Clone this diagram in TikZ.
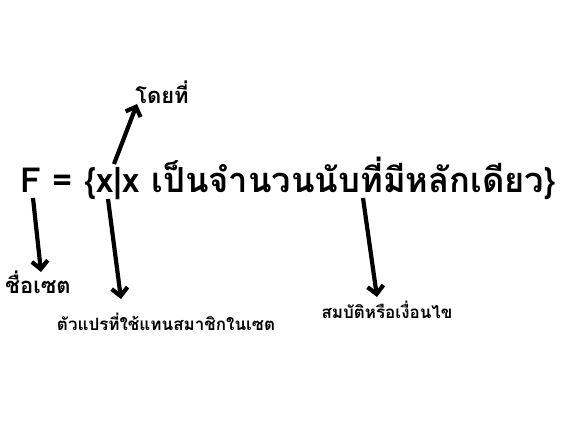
\documentclass[tikz,border=0pt]{standalone}
\usepackage{fontspec}
\newfontfamily\thaifont[Script=Thai]{Loma}
\usetikzlibrary{arrows.meta,positioning}

\begin{document}
\begin{tikzpicture}[x=1pt,y=-1pt,
  lbl/.style={font=\thaifont\bfseries\fontsize{17}{19}\selectfont, inner sep=0pt},
  biglbl/.style={font=\thaifont\bfseries\fontsize{22}{24}\selectfont, inner sep=0pt},
  pointer/.style={line width=4.2pt, -{Straight Barb[length=8pt,width=16pt,line width=4.2pt]}}]
  \useasboundingbox (0,0) rectangle (570,430);
  \node[inner sep=0pt, font=\thaifont\bfseries\fontsize{34.5}{38}\selectfont] (setdef) at (288,178) {F = \{x|x เป็นจำนวนนับที่มีหลักเดียว\}};
  \node[biglbl] (where) at (162,92) {โดยที่};
  \node[biglbl] (setname) at (38,282) {ชื่อเซต};
  \node[lbl] (var) at (166,322) {ตัวแปรที่ใช้แทนสมาชิกในเซต};
  \node[lbl] (prop) at (387,310) {สมบัติหรือเงื่อนไข};
  \coordinate (tF) at (33,198);
  \coordinate (hF) at (41,272);
  \coordinate (tbar) at (114,164);
  \coordinate (hbar) at (137,104);
  \coordinate (tx) at (108,199);
  \coordinate (hx) at (121,299);
  \coordinate (tcond) at (363,198);
  \coordinate (hcond) at (377,297);
  \draw[pointer] (tF) -- (hF);
  \draw[pointer] (tbar) -- (hbar);
  \draw[pointer] (tx) -- (hx);
  \draw[pointer] (tcond) -- (hcond);
\end{tikzpicture}
\end{document}
